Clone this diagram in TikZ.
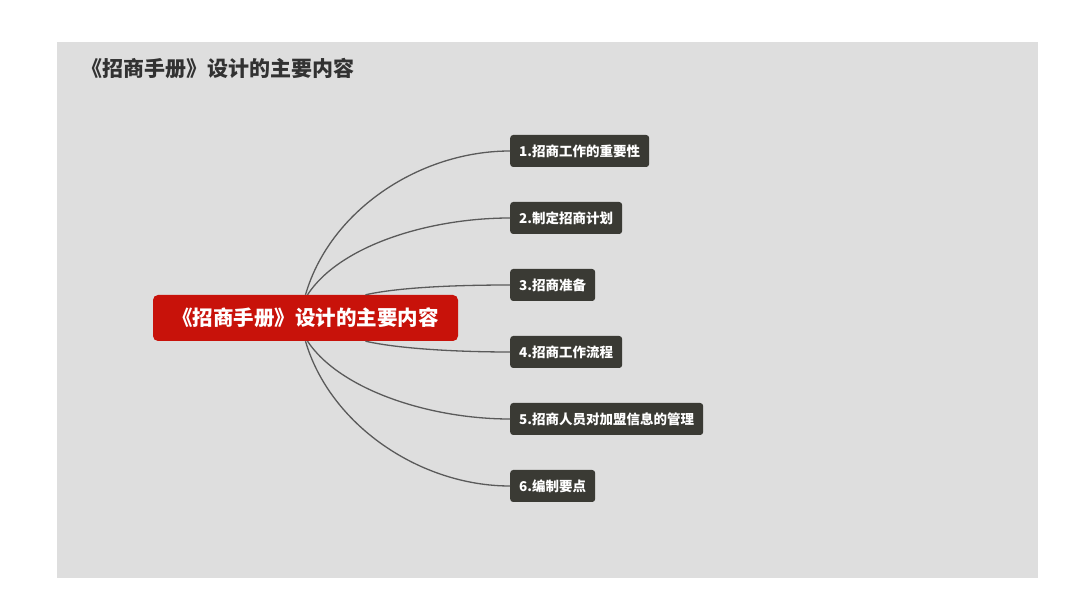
\documentclass[tikz,border=0pt]{standalone}
\usepackage{fontspec}
\setmainfont{Noto Sans CJK SC}
\definecolor{subc}{RGB}{58,58,52}
\definecolor{linec}{RGB}{90,90,90}
\definecolor{panel}{RGB}{222,222,222}
\definecolor{titlec}{RGB}{50,50,50}
\definecolor{redc}{RGB}{200,18,10}
\begin{document}
\begin{tikzpicture}[x=1pt,y=-1pt,
  sub/.style={draw=none,fill=subc,text=white,rounded corners=3pt,minimum height=32pt,inner xsep=9pt,anchor=west,font=\fontsize{13.5}{15}\selectfont\bfseries},
  link/.style={draw=linec,line width=1.3pt}]
\useasboundingbox (0,0) rectangle (1080,609);
\fill[white] (0,0) rectangle (1080,609);
\fill[panel] (57,42) rectangle (1038,578);
\node[anchor=west,text=titlec,font=\fontsize{21}{24}\selectfont\bfseries] (title) at (78,68) {《招商手册》设计的主要内容};
\node[fill=redc,text=white,rounded corners=5pt,minimum width=305pt,minimum height=46pt,font=\fontsize{20.5}{24}\selectfont\bfseries] (c) at (305.5,318) {《招商手册》设计的主要内容};
\node[sub] (n1) at (510,151) {1.招商工作的重要性};
\node[sub] (n2) at (510,218) {2.制定招商计划};
\node[sub] (n3) at (510,285) {3.招商准备};
\node[sub] (n4) at (510,352) {4.招商工作流程};
\node[sub] (n5) at (510,419) {5.招商人员对加盟信息的管理};
\node[sub] (n6) at (510,486) {6.编制要点};
\draw[link] (c.north) .. controls (330,210) and (420,151) .. (n1.west);
\draw[link] ([xshift=2pt]c.north) .. controls (340,245) and (430,218) .. (n2.west);
\draw[link] ([xshift=60pt]c.north) .. controls (400,287) and (460,285) .. (n3.west);
\draw[link] ([xshift=60pt]c.south) .. controls (400,349) and (460,352) .. (n4.west);
\draw[link] ([xshift=2pt]c.south) .. controls (340,390) and (430,419) .. (n5.west);
\draw[link] (c.south) .. controls (330,425) and (420,486) .. (n6.west);
\end{tikzpicture}
\end{document}
